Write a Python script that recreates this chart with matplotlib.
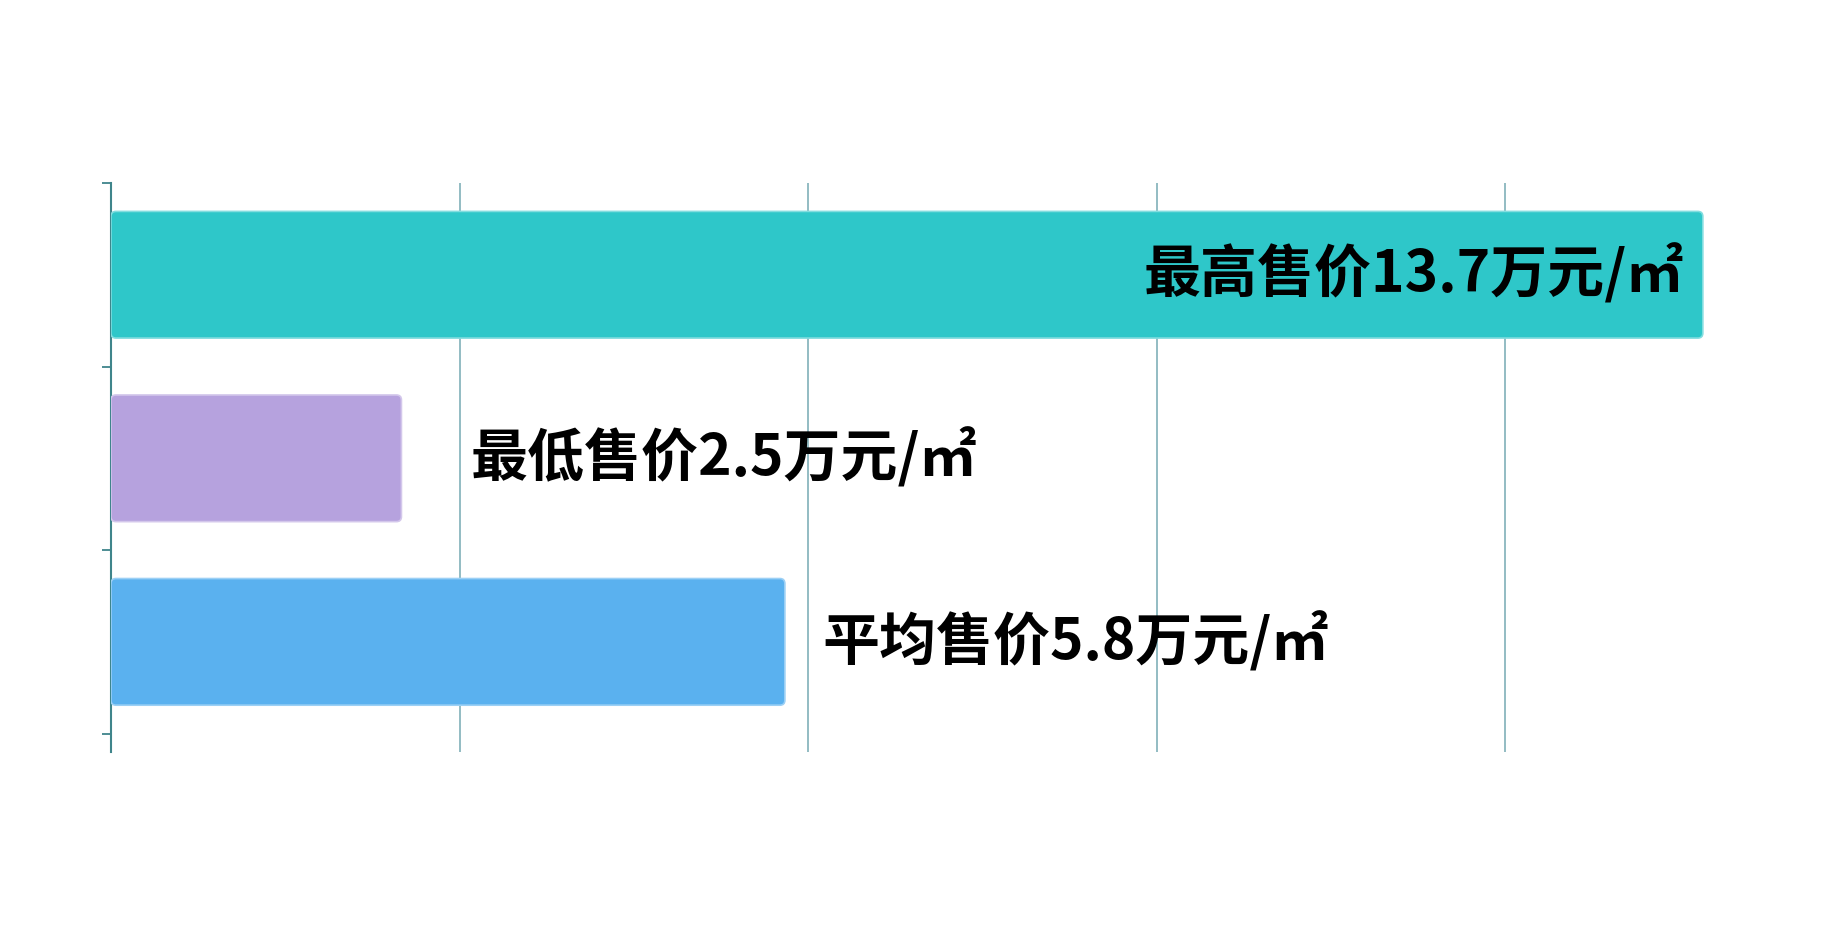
import numpy as np
import matplotlib
matplotlib.use("Agg")
import matplotlib.pyplot as plt
import matplotlib.colors as mcolors
from matplotlib.patches import FancyBboxPatch

plt.rcParams['font.family'] = ['Noto Sans CJK SC', 'DejaVu Sans']

# data
categories = ["最高售价", "最低售价", "平均售价"]
values = [13.7, 2.5, 5.8]
labels = ["最高售价13.7万元/㎡", "最低售价2.5万元/㎡", "平均售价5.8万元/㎡"]
colors = ["#2ec7c9", "#b6a2de", "#5ab1ef"]

axis_col = "#3f858b"
grid_col = "#8ab6be"

fig = plt.figure(figsize=(18.43, 9.33), dpi=100)
ax = fig.add_axes([0.0602, 0.194, 0.9457, 0.6099])

y = np.arange(len(categories))
bars = ax.barh(y, values, height=0.69, color=colors)

# rounded bars (px -> data units)
rx = 5 / 116.2
ry = 5 / 183.5
for b, c in zip(bars, colors):
    x0, y0 = b.get_x(), b.get_y()
    w, h = b.get_width(), b.get_height()
    edge = mcolors.to_rgb(c)
    edge = tuple(0.6*e + 0.4 for e in edge)
    p = FancyBboxPatch((x0, y0), w, h,
                       boxstyle=f"round,pad=0,rounding_size={rx}",
                       mutation_aspect=ry/rx,
                       facecolor=c, edgecolor=edge, lw=1.2, zorder=3)
    ax.add_patch(p)
    b.remove()

# labels: first one inside, the others to the right
offsets = [-19, 69, 37]
for i, (v, lab) in enumerate(zip(values, labels)):
    ha = "right" if offsets[i] < 0 else "left"
    ax.annotate(lab, xy=(v, i), xytext=(offsets[i], 0),
                textcoords="offset pixels", ha=ha, va="center",
                fontsize=41, fontweight="bold", color="black", zorder=5)

ax.set_xlim(0, 15)
ax.set_ylim(2.6, -0.5)
ax.set_xticks([0, 3, 6, 9, 12, 15])
ax.set_xticklabels([])
ax.tick_params(axis="x", length=0)
ax.grid(axis="x", color=grid_col, lw=1.3)
ax.set_axisbelow(True)

ax.set_yticks([-0.5, 0.5, 1.5, 2.5])
ax.set_yticklabels([])
ax.tick_params(axis="y", length=6.5, width=1.3, color=axis_col)

for s in ["top", "right", "bottom"]:
    ax.spines[s].set_visible(False)
ax.spines["left"].set_color(axis_col)
ax.spines["left"].set_linewidth(1.5)

fig.savefig("out.png", dpi=100)
